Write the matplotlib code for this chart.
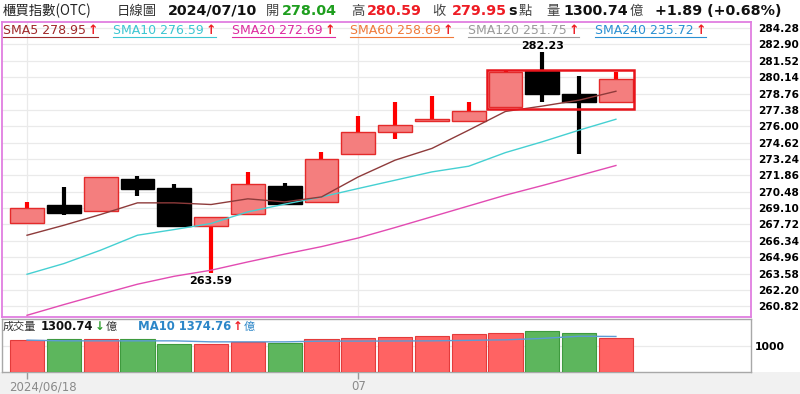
import matplotlib
matplotlib.use("Agg")
import matplotlib.pyplot as plt
from matplotlib.patches import Rectangle
from matplotlib.lines import Line2D

# Daily candles, 2024/06/18 .. 2024/07/10
dates = ['06/18', '06/19', '06/20', '06/21', '06/24', '06/25', '06/26', '06/27', '06/28',
         '07/01', '07/02', '07/03', '07/04', '07/05', '07/08', '07/09', '07/10']
opens = [267.88, 269.32, 268.84, 271.54, 270.80, 267.55, 268.64, 270.97, 269.62,
         273.65, 275.50, 276.46, 276.43, 277.64, 280.65, 278.69, 278.04]
highs = [269.62, 270.89, 271.73, 271.82, 271.12, 268.31, 272.10, 271.23, 273.79,
         276.85, 278.01, 278.54, 278.01, 280.73, 282.23, 280.25, 280.59]
lows = [267.88, 268.50, 268.84, 270.13, 267.57, 263.59, 268.64, 269.43, 269.62,
        273.65, 274.89, 276.37, 276.43, 277.64, 278.01, 273.65, 278.04]
closes = [269.07, 268.69, 271.73, 270.75, 267.57, 268.31, 271.12, 269.43, 273.28,
          275.53, 276.09, 276.58, 277.28, 280.59, 278.71, 278.06, 279.95]

sma5 = [266.81, 267.65, 268.56, 269.54, 269.54, 269.40, 269.88, 269.62, 270.04,
        271.73, 273.14, 274.13, 275.67, 277.25, 277.70, 278.20, 278.95]
sma10 = [263.52, 264.42, 265.55, 266.81, 267.29, 267.80, 268.78, 269.43, 270.04,
         270.75, 271.45, 272.15, 272.63, 273.78, 274.69, 275.67, 276.59]
sma20 = [260.06, 260.96, 261.83, 262.68, 263.35, 263.86, 264.56, 265.22, 265.85,
         266.58, 267.46, 268.37, 269.28, 270.19, 271.00, 271.84, 272.69]

volumes = [1233, 1284, 1261, 1261, 1089, 1066, 1156, 1128, 1261, 1311, 1362, 1389,
           1467, 1518, 1584, 1518, 1300.74]
vol_up = [1, 0, 1, 0, 0, 1, 1, 0, 1, 1, 1, 1, 1, 1, 0, 0, 1]
vol_ma10 = [1233, 1206, 1206, 1206, 1206, 1167, 1167, 1167, 1195, 1195, 1200, 1206,
            1225, 1245, 1300, 1385, 1374.76]

yticks = [260.82, 262.20, 263.58, 264.96, 266.34, 267.72, 269.10, 270.48, 271.86,
          273.24, 274.62, 276.00, 277.38, 278.76, 280.14, 281.52, 282.90, 284.28]
date_ticks = [0, 9]
date_labels = ['2024/06/18', '07']

# highlighted box around the last four candles
box_x = (12.51, 16.50)
box_y = (277.44, 280.74)

CJK = ['Noto Sans CJK TC', 'DejaVu Sans']
W, H = 800, 394

RED_BODY = '#F47E7E'
RED_EDGE = '#E42A2A'
RED_WICK = '#FF0000'

fig = plt.figure(figsize=(8, 3.94), dpi=100)
fig.patch.set_facecolor('white')
fig.add_artist(Rectangle((0, 0), 1, 22 / H, transform=fig.transFigure,
                         facecolor='#F1F1F1', edgecolor='none', zorder=0))

ax = fig.add_axes([2 / W, (H - 317.3) / H, 749 / W, (317.3 - 22) / H])
axv = fig.add_axes([2 / W, (H - 372) / H, 749 / W, (372 - 319.3) / H])

# ---- price panel
ax.set_xlim(-0.68, 19.67)
ax.set_ylim(259.89, 284.79)
ax.set_yticks(yticks)
ax.set_yticklabels(['%.2f' % v for v in yticks])
ax.yaxis.tick_right()
ax.tick_params(axis='y', length=0, pad=5, labelsize=7.6)
for lab in ax.get_yticklabels():
    lab.set_fontweight('bold')
ax.set_xticks(date_ticks)
ax.tick_params(axis='x', length=0, labelbottom=False)
ax.grid(True, color='#EAEAEA', lw=0.9)
ax.set_axisbelow(True)
for s in ax.spines.values():
    s.set_color('#E07EE0')
    s.set_linewidth(1.3)

for i in range(len(dates)):
    o, h, l, c = opens[i], highs[i], lows[i], closes[i]
    up = c >= o
    wick = RED_WICK if up else 'black'
    face = RED_BODY if up else 'black'
    edge = RED_EDGE if up else 'black'
    ax.vlines(i, l, h, color=wick, lw=3.0, zorder=3)
    ax.add_patch(Rectangle((i - 0.46, min(o, c)), 0.92, max(abs(c - o), 0.1),
                           facecolor=face, edgecolor=edge, lw=1.0, zorder=4))

x = list(range(len(dates)))
ax.plot(x, sma20, color='#E24BB2', lw=1.0, zorder=5)
ax.plot(x, sma10, color='#45D0D2', lw=1.0, zorder=5)
ax.plot(x, sma5, color='#8E3B3B', lw=1.0, zorder=5)

ax.add_patch(Rectangle((box_x[0], box_y[0]), box_x[1] - box_x[0], box_y[1] - box_y[0],
                       fill=False, edgecolor='#E8141B', lw=1.8, zorder=6))

lo_i = lows.index(min(lows))
hi_i = highs.index(max(highs))
ax.annotate('%.2f' % lows[lo_i], (lo_i, lows[lo_i]), xytext=(0, -2),
            textcoords='offset points', ha='center', va='top',
            fontsize=8, fontweight='bold', zorder=7)
ax.annotate('%.2f' % highs[hi_i], (hi_i, highs[hi_i]), xytext=(0, 1),
            textcoords='offset points', ha='center', va='bottom',
            fontsize=8, fontweight='bold', zorder=7)

# ---- volume panel
axv.set_xlim(-0.68, 19.67)
axv.set_ylim(0, 2040)
for i, v in enumerate(volumes):
    if vol_up[i]:
        fc, ec = '#FF6363', '#E33B3B'
    else:
        fc, ec = '#5DB65D', '#3E9A3E'
    axv.bar(i, v, width=0.93, color=fc, edgecolor=ec, lw=0.8, zorder=3)
axv.plot(x, vol_ma10, color='#5C9BD5', lw=1.0, zorder=4)
axv.set_yticks([1000])
axv.set_yticklabels(['1000'])
axv.yaxis.tick_right()
axv.tick_params(axis='y', length=0, pad=3, labelsize=7.8)
for lab in axv.get_yticklabels():
    lab.set_fontweight('bold')
axv.grid(True, axis='y', color='#EAEAEA', lw=0.9)
axv.set_axisbelow(True)
axv.set_xticks(date_ticks)
axv.set_xticklabels([])
axv.tick_params(axis='x', length=5, color='#999999', width=1)
for s in axv.spines.values():
    s.set_color('#A8A8A8')
    s.set_linewidth(1.0)

axv.text(-0.5, -0.28, date_labels[0], transform=axv.get_xaxis_transform(),
         ha='left', va='center', fontsize=8.5, color='#8A8A8A')
axv.text(date_ticks[1], -0.28, date_labels[1], transform=axv.get_xaxis_transform(),
         ha='center', va='center', fontsize=8.5, color='#8A8A8A')

renderer = fig.canvas.get_renderer()


def text_row(py, pieces):
    # pieces: (x start in px, text, kwargs); never let a piece start before
    # the previous one ends
    end = 0
    out = []
    for px, s, kw in pieces:
        px = max(px, end + 1.5)
        t = fig.text(px / W, 1 - py / H, s, ha='left', va='center', **kw)
        bb = t.get_window_extent(renderer)
        end = bb.x1
        out.append(t)
    return out


cjk = dict(family=CJK, fontsize=9.6, color='#444444')
num = dict(fontsize=10.3, fontweight='bold', color='#111111')

# ---- header line
text_row(11, [
    (3, '櫃買指數(OTC)', dict(family=CJK, fontsize=9.6, color='#222222')),
    (117, '日線圖', dict(family=CJK, fontsize=9.6, color='#333333')),
    (168, '2024/07/10', num),
    (266, '開', cjk),
    (282, '278.04', dict(num, color='#1E9E1E')),
    (351, '高', cjk),
    (367, '280.59', dict(num, color='#EE1C24')),
    (432, '收', cjk),
    (452, '279.95', dict(num, color='#EE1C24')),
    (508, 's', num),
    (519, '點', cjk),
    (546, '量', cjk),
    (563, '1300.74', num),
    (630, '億', cjk),
    (655, '+1.89 (+0.68%)', num),
])

# ---- MA legend line (underlined)
sma_labels = ['SMA5 278.95', 'SMA10 276.59', 'SMA20 272.69', 'SMA60 258.69',
              'SMA120 251.75', 'SMA240 235.72']
sma_colors = ['#A0282A', '#3CC6D2', '#DE2CA0', '#F07A3A', '#9A9A9A', '#2A90D2']
sma_x = [3, 113, 232, 350, 468, 595]

for lbl, col, px in zip(sma_labels, sma_colors, sma_x):
    t, a = text_row(30, [(px, lbl, dict(fontsize=9, color=col)),
                         (0, '↑', dict(fontsize=9, fontweight='bold', color='#EE1C24'))])
    bb = t.get_window_extent(renderer)
    ab = a.get_window_extent(renderer)
    fig.add_artist(Line2D([bb.x0 / W, ab.x1 / W], [(H - 36.5) / H] * 2,
                          transform=fig.transFigure, color=col, lw=0.8))

# ---- volume header
vcjk = dict(family=CJK, fontsize=8.0, color='#333333')
text_row(327, [
    (3, '成交量', vcjk),
    (41, '1300.74', dict(fontsize=8.4, fontweight='bold', color='#111111')),
    (94, '↓', dict(fontsize=8.4, fontweight='bold', color='#2E9E2E')),
    (102, '億', vcjk),
])
text_row(327, [
    (138, 'MA10 1374.76', dict(fontsize=8.4, fontweight='bold', color='#2C86C8')),
    (230, '↑', dict(fontsize=8.4, fontweight='bold', color='#EE1C24')),
    (238, '億', dict(vcjk, color='#2C86C8')),
])

fig.savefig('out.png', dpi=100)
